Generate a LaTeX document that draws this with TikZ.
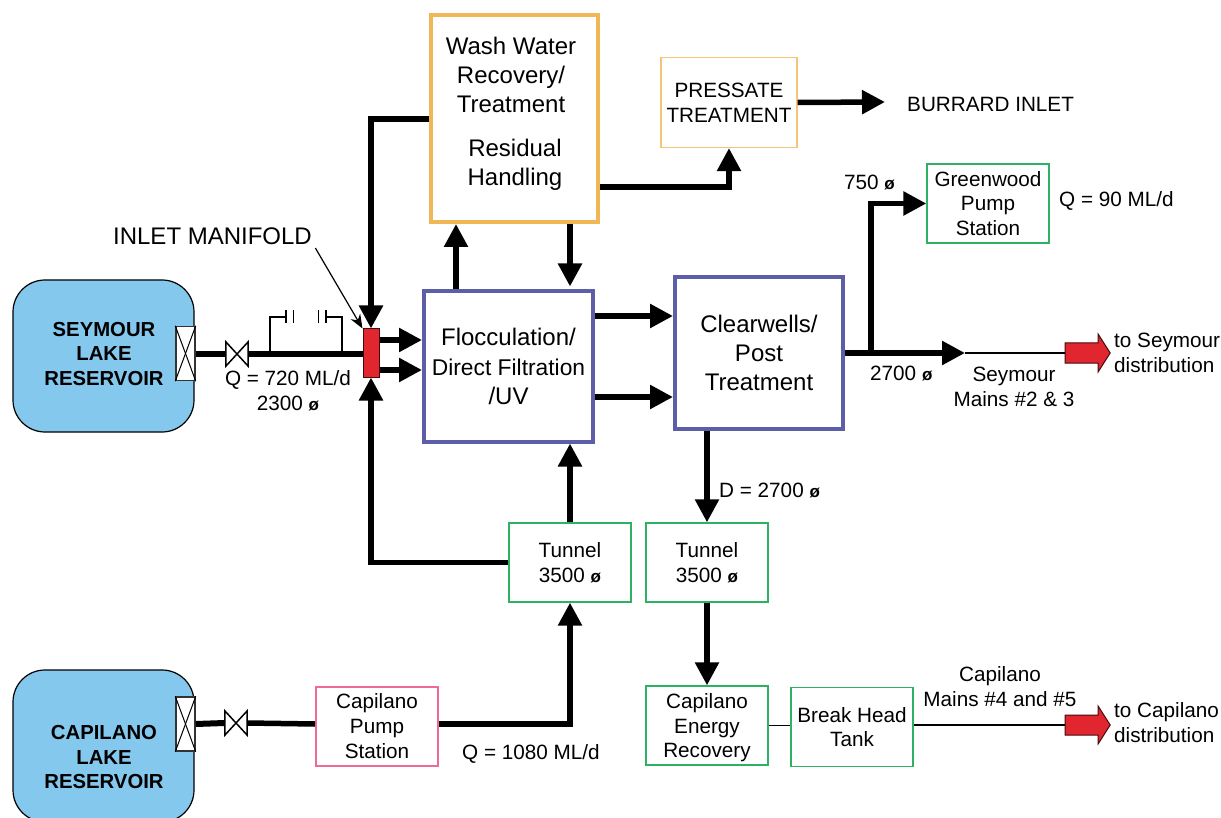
\documentclass[tikz,border=0pt]{standalone}
\usepackage{fontspec}
\setmainfont{Liberation Sans}
\usepackage{xcolor}
\usetikzlibrary{arrows.meta,shapes.arrows}

\definecolor{lakeblue}{HTML}{85C8EE}
\definecolor{washorange}{HTML}{F0B757}
\definecolor{pressorange}{HTML}{F5C478}
\definecolor{plantblue}{HTML}{5D5DA8}
\definecolor{stationgreen}{HTML}{2DB264}
\definecolor{pumppink}{HTML}{EE6A97}
\definecolor{mainred}{HTML}{E1262F}

\newcommand{\dia}{{\fontsize{17}{17}\selectfont\bfseries ø}}

\tikzset{
  bigtxt/.style={font=\fontsize{24}{29.3}\selectfont,align=center},
  midtxt/.style={font=\fontsize{20.7}{24.7}\selectfont,align=center},
  laketxt/.style={font=\fontsize{20.3}{24.5}\selectfont\bfseries,align=center},
  unit/.style={draw,inner sep=0pt,minimum width=122pt,minimum height=79pt,midtxt,text depth=0pt,line width=1.3pt},
  plant/.style={draw=plantblue,inner sep=0pt,line width=4pt,bigtxt},
  lake/.style={draw=black,fill=lakeblue,line width=1.2pt,rounded corners=32pt,inner sep=0pt,
    minimum width=181pt,minimum height=152pt},
  sluice/.style={draw=black!80,fill=white,line width=1.5pt,inner sep=0pt,minimum width=19pt,minimum height=54pt},
  valve/.style={inner sep=0pt,minimum width=22pt,minimum height=24pt},
  redarrow/.style={draw=black!70!mainred,fill=mainred,line width=1pt,single arrow,inner sep=9.5pt,
    single arrow head extend=9pt,single arrow tip angle=115,minimum height=45pt},
  pipe/.style={line width=5.5pt},
  pipearrow/.style={line width=5.5pt,-{Triangle[length=23pt,width=23pt]}},
  thinpipe/.style={line width=1.2pt}
}

\begin{document}
\begin{tikzpicture}[x=1pt,y=-1pt]
  \path[use as bounding box,clip] (0,0) rectangle (1221,818);

  % reservoirs
  \node[lake,laketxt] (seymour) at (103.5,356) {};
  \node[laketxt] (seymourtxt) at (104,354) {SEYMOUR\\LAKE\\RESERVOIR};
  \node[lake] (capilano) at (103.5,746) {};
  \node[laketxt] (capilanotxt) at (104,757.5) {CAPILANO\\LAKE\\RESERVOIR};
  \node[sluice] (sluiceS) at (185.5,353.5) {};
  \node[sluice] (sluiceC) at (185.5,724) {};
  \node[valve] (valveS) at (237,354) {};
  \node[valve] (valveC) at (236,723) {};
  \foreach \s in {sluiceS,sluiceC} {
    \draw[line width=1pt] (\s.north west) -- (\s.south east);
    \draw[line width=1pt] (\s.north east) -- (\s.south west);
  }
  \foreach \v in {valveS,valveC}
    \draw[line width=1.5pt] (\v.north west) -- (\v.south east) -- (\v.north east) -- (\v.south west) -- cycle;

  % process boxes
  \node[draw=washorange,inner sep=0pt,line width=4pt,minimum width=167pt,minimum height=207pt] (wash) at (514.5,118.5) {};
  \node[bigtxt] (washtxtA) at (511,75) {Wash Water\\Recovery/\\Treatment};
  \node[bigtxt] (washtxtB) at (515,165) {Residual\\Handling};
  \node[plant,minimum width=169pt,minimum height=150pt] (floc) at (508.5,366.5) {Flocculation/\\{\fontsize{22.8}{29.3}\selectfont Direct Filtration}\\/UV};
  \node[plant,minimum width=168pt,minimum height=152pt] (clear) at (759,353) {Clearwells/\\Post\\Treatment};
  \node[draw=pressorange,inner sep=0pt,line width=1.2pt,minimum width=136pt,minimum height=90pt,midtxt] (pressate) at (729,102.5) {PRESSATE\\TREATMENT};
  \node[unit,draw=stationgreen] (greenwood) at (988,203.5) {Greenwood\\Pump\\Station};
  \node[unit,draw=stationgreen] (tunnelA) at (570,562.5) {Tunnel\\3500 \dia};
  \node[unit,draw=stationgreen] (tunnelB) at (707,562.5) {Tunnel\\3500 \dia};
  \node[unit,draw=pumppink,line width=2pt] (pump) at (377,726) {Capilano\\Pump\\Station};
  \node[unit,draw=stationgreen] (energy) at (707,725.5) {Capilano\\Energy\\Recovery};
  \node[unit,draw=stationgreen] (breakhead) at (852,727) {Break Head\\Tank};
  \node[draw=black!70!mainred,fill=mainred,line width=1pt,inner sep=0pt,minimum width=16pt,minimum height=48pt] (manifold) at (371,353) {};
  \node[redarrow] (toSeymour) at (1084.5,353) {};
  \node[redarrow] (toCapilano) at (1084.5,725) {};

  % helper positions
  \coordinate (washIn) at (0,119);
  \coordinate (washOut) at (0,187);
  \coordinate (flocUp) at (456,0);
  \coordinate (flocDown) at (570,0);
  \coordinate (manTop) at (0,340);
  \coordinate (manLow) at (0,370);
  \coordinate (clearTop) at (0,316);
  \coordinate (clearLow) at (0,397);
  \coordinate (branch) at (871,353);
  \coordinate (sLine) at (0,354);
  \coordinate (cLine) at (0,724);
  \coordinate (bypA) at (270,352);
  \coordinate (bypB) at (342,352);
  \coordinate (plateA) at (286,317);
  \coordinate (plateB) at (326,317);
  \coordinate (mainEnd) at (965,353);
  \coordinate (burrard) at (885,102);

  % main pipes
  \draw[pipe] (sluiceS.east |- sLine) -- (valveS.west);
  \draw[line width=6pt] (valveS.east) -- (manifold.west |- sLine);
  \draw[line width=6pt] (sluiceC.east |- cLine) -- (valveC.west);
  \draw[pipe] (valveC.east) -- (pump.west |- cLine);
  \draw[pipearrow] (manifold.east |- manTop) -- (floc.west |- manTop);
  \draw[pipearrow] (manifold.east |- manLow) -- (floc.west |- manLow);
  \draw[pipearrow] (wash.west |- washIn) -| (manifold.north);
  \draw[pipearrow] (tunnelA.west) -| (manifold.south);
  \draw[pipearrow] (tunnelA.north) -- (floc.south -| tunnelA.north);
  \draw[pipearrow] (pump.east |- cLine) -| (tunnelA.south);
  \draw[pipearrow] (floc.north -| flocUp) -- (wash.south -| flocUp);
  \draw[pipearrow,shorten >=3pt] (wash.south -| flocDown) -- (floc.north -| flocDown);
  \draw[pipearrow] (wash.east |- washOut) -| (pressate.south);
  \draw[pipearrow] (pressate.east) -- (burrard);
  \draw[pipearrow] (floc.east |- clearTop) -- (clear.west |- clearTop);
  \draw[pipearrow] (floc.east |- clearLow) -- (clear.west |- clearLow);
  \draw[pipearrow] (clear.east) -- (mainEnd);
  \draw[pipearrow] (branch) |- (greenwood.west);
  \draw[pipearrow] (clear.south -| tunnelB.north) -- (tunnelB.north);
  \draw[pipearrow] (tunnelB.south) -- (energy.north);

  % thin lines
  \draw[thinpipe] (mainEnd) -- (toSeymour.west);
  \draw[thinpipe] (energy.east) -- (breakhead.west |- energy.east);
  \draw[thinpipe] (breakhead.east |- toCapilano.west) -- (toCapilano.west);

  % bypass above the inlet line
  \draw[thinpipe] (bypA) |- (plateA);
  \draw[thinpipe] (bypB) |- (plateB);
  \draw[line width=1.4pt] (286,310) -- (286,323);
  \draw[line width=1.4pt] (293.5,310) -- (293.5,323);
  \draw[line width=1.4pt] (318.5,310) -- (318.5,323);
  \draw[line width=1.4pt] (326,310) -- (326,323);

  % labels
  \node[font=\fontsize{24}{28}\selectfont] (inlettxt) at (212.5,236) {INLET MANIFOLD};
  \draw[thinpipe,-{Stealth[length=14pt,width=11pt]}] (inlettxt.south east) -- (manifold.north west);
  \node[midtxt] (qseymour) at (288,391) {Q = 720 ML/d\\2300 \dia};
  \node[midtxt,anchor=west,inner sep=0pt] (burrardtxt) at (907,104.5) {BURRARD INLET};
  \node[midtxt,anchor=west,inner sep=0pt] (qgreen) at (1059,201) {Q = 90 ML/d};
  \node[midtxt,anchor=west,inner sep=0pt] (dia750) at (844,183) {750 \dia};
  \node[midtxt,anchor=west,inner sep=0pt] (dia2700) at (870,374) {2700 \dia};
  \node[midtxt] (mainsS) at (1014,387) {Seymour\\Mains \#2 \& 3};
  \node[midtxt,align=left,anchor=west,inner sep=0pt] (distS) at (1114,353) {to Seymour\\distribution};
  \node[midtxt] (mainsC) at (1000,686.5) {Capilano\\Mains \#4 and \#5};
  \node[midtxt,align=left,anchor=west,inner sep=0pt] (distC) at (1114,722.5) {to Capilano\\distribution};
  \node[midtxt] (qcapilano) at (531,754) {Q = 1080 ML/d};
  \node[midtxt,anchor=west,inner sep=0pt] (diaD) at (719,490) {D = 2700 \dia};
\end{tikzpicture}
\end{document}
